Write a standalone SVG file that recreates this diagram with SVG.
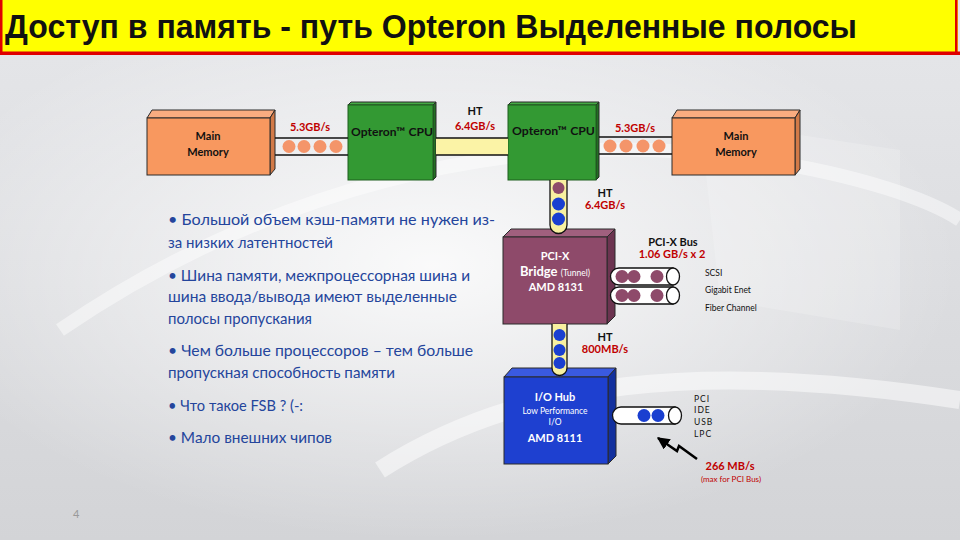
<svg xmlns="http://www.w3.org/2000/svg" width="960" height="540" viewBox="0 0 960 540">
<defs>
<linearGradient id="bg" x1="0" y1="0" x2="0" y2="1">
<stop offset="0" stop-color="#e6e7ea"/>
<stop offset="1" stop-color="#d3d4d7"/>
</linearGradient>
<radialGradient id="glow" cx="0.45" cy="0.45" r="0.55">
<stop offset="0" stop-color="#ffffff" stop-opacity="0.85"/>
<stop offset="1" stop-color="#ffffff" stop-opacity="0"/>
</radialGradient>
<marker id="arr" viewBox="0 0 10 10" refX="9" refY="5" markerWidth="5" markerHeight="5" orient="auto">
<path d="M0,0 L10,5 L0,10 Z" fill="#000"/>
</marker>
<style>
.t{font-family:"Lato","Liberation Sans",sans-serif}
.bx{stroke:#2a2a2a;stroke-width:1}
.lbl{font-family:"Lato","Liberation Sans",sans-serif;font-weight:bold;font-size:11px;text-anchor:middle}
.red{fill:#c00000}
.blk{fill:#111}
.wht{fill:#ffffff}
.bul{font-family:"Lato","Liberation Sans",sans-serif;font-size:16px;fill:#24459c}
.sm{font-family:"Lato","Liberation Sans",sans-serif;font-size:8.5px;fill:#111}
.line{stroke:#111;stroke-width:1.5;fill:none}
.tube{fill:#ffffff;stroke:#111;stroke-width:1.3}
.ytube{fill:#f8f0a0;stroke:#111;stroke-width:1.3}
.or{fill:#f4956a}
.pu{fill:#8e4a6a}
.bl{fill:#1a3fd0}
</style>
</defs>

<!-- background -->
<rect x="0" y="0" width="960" height="540" fill="url(#bg)"/>
<rect x="0" y="40" width="960" height="500" fill="url(#glow)"/>
<path d="M60,330 C250,200 500,120 760,160 C860,175 930,200 960,220" fill="none" stroke="#ffffff" stroke-opacity="0.45" stroke-width="14"/>
<path d="M380,470 C520,380 700,360 960,400" fill="none" stroke="#ffffff" stroke-opacity="0.5" stroke-width="18"/>
<path d="M700,120 L900,150 L900,330 L720,300 Z" fill="#ffffff" fill-opacity="0.18"/>

<!-- title -->
<g id="title">
<rect x="0" y="0" width="958" height="54" fill="#ffff00"/>
<rect x="0" y="0" width="2.5" height="54" fill="#e00000"/>
<rect x="955" y="0" width="2.5" height="54" fill="#e00000"/>
<rect x="0" y="51.5" width="960" height="3.5" fill="#e00000"/>
<text x="5" y="38" font-family="Liberation Sans, Arial, sans-serif" font-weight="bold" font-size="34" fill="#111" textLength="852" lengthAdjust="spacingAndGlyphs">Доступ в память - путь Opteron Выделенные полосы</text>
</g>

<!-- nodes -->
<g id="mem-left">
<polygon points="147,118 152,110 275,110 270,118" fill="#f9ac80" class="bx"/>
<polygon points="270,118 275,110 275,169 270,175" fill="#d27a48" class="bx"/>
<rect x="147" y="118" width="123" height="57" fill="#f8985f" class="bx"/>
<text x="208" y="140" class="lbl blk" font-size="13.5">Main</text>
<text x="208" y="156" class="lbl blk" font-size="13.5">Memory</text>
</g>

<g id="cpu-left">
<polygon points="348,105 351,102 436,102 433,105" fill="#44aa44" class="bx"/>
<polygon points="433,105 436,102 436,177 433,180" fill="#236f23" class="bx"/>
<rect x="348" y="105" width="85" height="75" fill="#339933" stroke="#1e5e1e" stroke-width="1"/>
<text x="351" y="136" class="t" font-weight="bold" font-size="12" fill="#111" textLength="82" lengthAdjust="spacingAndGlyphs">Opteron™ CPU</text>
</g>

<g id="cpu-right">
<polygon points="508,105 511,102 599,102 596,105" fill="#44aa44" class="bx"/>
<polygon points="596,105 599,102 599,177 596,180" fill="#236f23" class="bx"/>
<rect x="508" y="105" width="88" height="75" fill="#339933" stroke="#1e5e1e" stroke-width="1"/>
<text x="512" y="135" class="t" font-weight="bold" font-size="12" fill="#111" textLength="83" lengthAdjust="spacingAndGlyphs">Opteron™ CPU</text>
</g>

<g id="mem-right">
<polygon points="672,118 677,110 800,110 795,118" fill="#f9ac80" class="bx"/>
<polygon points="795,118 800,110 800,169 795,175" fill="#d27a48" class="bx"/>
<rect x="672" y="118" width="123" height="57" fill="#f8985f" class="bx"/>
<text x="736" y="140" class="lbl blk" font-size="13.5">Main</text>
<text x="736" y="156" class="lbl blk" font-size="13.5">Memory</text>
</g>

<g id="pcix-bridge">
<polygon points="503,237 511,229 615,229 607,237" fill="#a0607e" class="bx"/>
<polygon points="607,237 615,229 615,316 607,324" fill="#6c3450" class="bx"/>
<rect x="503" y="237" width="104" height="87" fill="#8e4a6a" class="bx"/>
<text x="555" y="260" class="lbl wht" font-size="14.5">PCI-X</text>
<text x="555" y="276" class="t wht" text-anchor="middle"><tspan font-weight="bold" font-size="13">Bridge </tspan><tspan font-size="8.5">(Tunnel)</tspan></text>
<text x="556" y="291" class="lbl wht" font-size="13">AMD 8131</text>
</g>

<g id="io-hub">
<polygon points="504,377 512,368 616,368 608,377" fill="#3a5ae0" class="bx"/>
<polygon points="608,377 616,368 616,456 608,464" fill="#12309e" class="bx"/>
<rect x="504" y="377" width="104" height="87" fill="#1e40d0" class="bx"/>
<text x="555" y="401" class="lbl wht" font-size="14.5">I/O Hub</text>
<text x="555" y="414" class="t wht" font-size="8.5" text-anchor="middle">Low Performance</text>
<text x="555" y="425" class="t wht" font-size="8.5" text-anchor="middle">I/O</text>
<text x="555" y="442" class="lbl wht" font-size="14.5">AMD 8111</text>
</g>

<!-- connectors -->
<g id="connectors">
<line x1="275" y1="138" x2="348" y2="138" class="line"/>
<line x1="275" y1="155" x2="348" y2="155" class="line"/>
<circle cx="289" cy="146.5" r="6.5" class="or"/>
<circle cx="304" cy="146.5" r="6.5" class="or"/>
<circle cx="320" cy="146.5" r="6.5" class="or"/>
<circle cx="336" cy="146.5" r="6.5" class="or"/>
<rect x="436" y="138" width="72" height="17" fill="#fbf3a6"/>
<line x1="436" y1="138" x2="508" y2="138" class="line"/>
<line x1="436" y1="155" x2="508" y2="155" class="line"/>
<line x1="599" y1="137" x2="672" y2="137" class="line"/>
<line x1="599" y1="154" x2="672" y2="154" class="line"/>
<circle cx="610" cy="146" r="6.5" class="or"/>
<circle cx="626" cy="146" r="6.5" class="or"/>
<circle cx="643" cy="146" r="6.5" class="or"/>
<circle cx="659" cy="146" r="6.5" class="or"/>
<path d="M550,180 L550,225 A8.5,8.5 0 0 0 567,225 L567,180" class="ytube"/>
<circle cx="558.5" cy="188" r="6" class="pu"/>
<circle cx="558.5" cy="204" r="6.5" class="bl"/>
<circle cx="558.5" cy="219" r="6.5" class="bl"/>
<path d="M552,324 L552,368 A7.5,7.5 0 0 0 567,368 L567,324" class="ytube"/>
<circle cx="559.5" cy="335" r="6" class="bl"/>
<circle cx="559.5" cy="350" r="6" class="bl"/>
<circle cx="559.5" cy="363" r="6" class="bl"/>
<path d="M619,268 L673,268 L673,285 L619,285 A8.5,8.5 0 0 1 619,268 Z" class="tube"/>
<circle cx="622" cy="276.5" r="6.5" class="pu"/>
<circle cx="634" cy="276.5" r="6.5" class="pu"/>
<circle cx="657" cy="276.5" r="6.5" class="pu"/>
<ellipse cx="673" cy="276.5" rx="6.5" ry="8.5" class="tube"/>
<path d="M619,287 L673,287 L673,304 L619,304 A8.5,8.5 0 0 1 619,287 Z" class="tube"/>
<circle cx="622" cy="295.5" r="6.5" class="pu"/>
<circle cx="634" cy="295.5" r="6.5" class="pu"/>
<circle cx="657" cy="295.5" r="6.5" class="pu"/>
<ellipse cx="673" cy="295.5" rx="6.5" ry="8.5" class="tube"/>
<path d="M621,407 L675,407 L675,424 L621,424 A8.5,8.5 0 0 1 621,407 Z" class="tube"/>
<circle cx="644" cy="415.5" r="6.5" class="bl"/>
<circle cx="658" cy="415.5" r="6.5" class="bl"/>
<ellipse cx="675" cy="415.5" rx="6.5" ry="8.5" class="tube"/>
<path d="M697,459 L679,446 L677,451 L658,438" fill="none" stroke="#000" stroke-width="2.5" marker-end="url(#arr)"/>
</g>

<g id="labels">
<text x="310" y="131" class="lbl red">5.3GB/s</text>
<text x="475" y="115" class="lbl blk">HT</text>
<text x="475" y="130" class="lbl red">6.4GB/s</text>
<text x="635" y="132" class="lbl red">5.3GB/s</text>
<text x="605" y="197" class="lbl blk">HT</text>
<text x="605" y="209" class="lbl red">6.4GB/s</text>
<text x="673" y="246" class="lbl blk" font-size="10.5">PCI-X Bus</text>
<text x="672" y="258" class="lbl red" font-size="10.5">1.06 GB/s x 2</text>
<text x="705" y="276" class="sm">SCSI</text>
<text x="705" y="293" class="sm">Gigabit Enet</text>
<text x="705" y="311" class="sm">Fiber Channel</text>
<text x="605" y="341" class="lbl blk">HT</text>
<text x="605" y="353" class="lbl red">800MB/s</text>
<text x="694" y="402" class="sm" letter-spacing="1">PCI</text>
<text x="694" y="413" class="sm" letter-spacing="1">IDE</text>
<text x="694" y="425" class="sm" letter-spacing="1">USB</text>
<text x="694" y="437" class="sm" letter-spacing="1">LPC</text>
<text x="730" y="470" class="lbl red" font-size="11">266 MB/s</text>
<text x="731" y="482" class="t red" font-size="8" text-anchor="middle">(max for PCI Bus)</text>
</g>

<g id="bullets">
<text x="168" y="225" class="bul" textLength="327" lengthAdjust="spacingAndGlyphs">• Большой объем кэш-памяти не нужен из-</text>
<text x="168" y="248" class="bul" textLength="165" lengthAdjust="spacingAndGlyphs">за низких латентностей</text>
<text x="168" y="281" class="bul" textLength="302" lengthAdjust="spacingAndGlyphs">• Шина памяти, межпроцессорная шина и</text>
<text x="168" y="302" class="bul" textLength="289" lengthAdjust="spacingAndGlyphs">шина ввода/вывода имеют выделенные</text>
<text x="168" y="324" class="bul" textLength="144" lengthAdjust="spacingAndGlyphs">полосы пропускания</text>
<text x="168" y="356" class="bul" textLength="305" lengthAdjust="spacingAndGlyphs">• Чем больше процессоров – тем больше</text>
<text x="168" y="378" class="bul" textLength="227" lengthAdjust="spacingAndGlyphs">пропускная способность памяти</text>
<text x="168" y="411" class="bul" textLength="135" lengthAdjust="spacingAndGlyphs">• Что такое FSB ? (-:</text>
<text x="168" y="443" class="bul" textLength="164" lengthAdjust="spacingAndGlyphs">• Мало внешних чипов</text>
</g>

<text x="73" y="518" class="t" font-size="11" fill="#999">4</text>
</svg>
